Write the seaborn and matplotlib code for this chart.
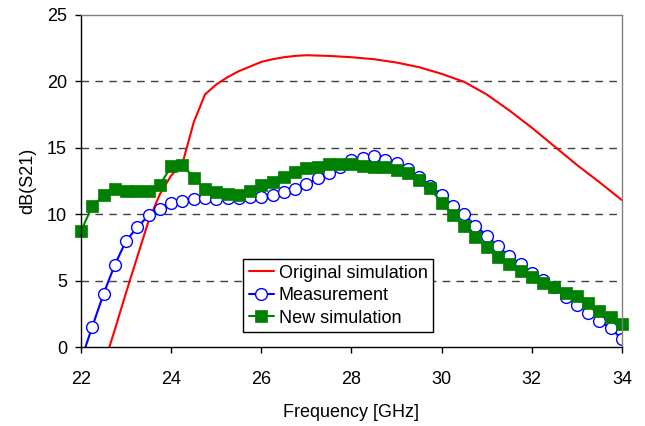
"""S21 comparison plot"""

import pandas as pd
import seaborn as sns
import matplotlib

matplotlib.use("Agg")
import matplotlib.pyplot as plt

sns.set_theme(style="white")
plt.rcParams["font.family"] = ["Liberation Sans", "DejaVu Sans"]
plt.rcParams["text.color"] = "black"
plt.rcParams["axes.labelcolor"] = "black"

# measured / simulated points, every 0.25 GHz
freq = [
    22.0, 22.25, 22.5, 22.75, 23.0, 23.25, 23.5, 23.75, 24.0, 24.25,
    24.5, 24.75, 25.0, 25.25, 25.5, 25.75, 26.0, 26.25, 26.5, 26.75,
    27.0, 27.25, 27.5, 27.75, 28.0, 28.25, 28.5, 28.75, 29.0, 29.25,
    29.5, 29.75, 30.0, 30.25, 30.5, 30.75, 31.0, 31.25, 31.5, 31.75,
    32.0, 32.25, 32.5, 32.75, 33.0, 33.25, 33.5, 33.75, 34.0,
]
measurement = [
    -1.0, 1.53, 4.0, 6.19, 7.99, 9.02, 9.9, 10.42, 10.8, 10.98,
    11.12, 11.22, 11.15, 11.18, 11.22, 11.25, 11.3, 11.43, 11.68, 11.88,
    12.23, 12.68, 13.11, 13.56, 14.06, 14.23, 14.36, 14.06, 13.81, 13.36,
    12.78, 12.12, 11.43, 10.62, 9.97, 9.12, 8.37, 7.57, 6.84, 6.24,
    5.59, 5.04, 4.49, 3.78, 3.16, 2.58, 1.95, 1.4, 0.6,
]
new_sim = [
    8.74, 10.58, 11.4, 11.88, 11.76, 11.76, 11.76, 12.18, 13.6, 13.7,
    12.75, 11.88, 11.66, 11.5, 11.44, 11.76, 12.18, 12.43, 12.8, 13.13,
    13.43, 13.56, 13.8, 13.8, 13.8, 13.6, 13.56, 13.56, 13.3, 13.12,
    12.56, 11.93, 10.8, 9.92, 9.1, 8.25, 7.5, 6.79, 6.22, 5.74,
    5.24, 4.84, 4.54, 4.08, 3.86, 3.28, 2.73, 2.28, 1.7,
]

# original simulation (line only)
freq_orig = [
    22.5, 22.75, 23.0, 23.25, 23.5, 23.75, 24.0, 24.25, 24.5, 24.75,
    25.0, 25.25, 25.5, 25.75, 26.0, 26.25, 26.5, 26.75, 27.0, 27.5,
    28.0, 28.5, 29.0, 29.5, 30.0, 30.5, 31.0, 31.5, 32.0, 32.5,
    33.0, 33.5, 34.0,
]
original = [
    -1.4, 1.3, 4.1, 6.8, 9.5, 11.5, 12.9, 13.8, 16.9, 19.0,
    19.75, 20.3, 20.75, 21.1, 21.45, 21.65, 21.8, 21.9, 21.95, 21.9,
    21.8, 21.65, 21.4, 21.05, 20.55, 19.95, 19.0, 17.8, 16.5, 15.1,
    13.7, 12.4, 11.05,
]

fig = plt.figure(figsize=(6.45, 4.26), dpi=100)
ax = fig.add_axes([0.1256, 0.1854, 0.8387, 0.7801])

sns.lineplot(x=freq_orig, y=original, color="#ff0000", linewidth=1.5,
             label="Original simulation", ax=ax)
sns.lineplot(x=freq, y=measurement, color="#0000ff", linewidth=1.5,
             marker="o", markersize=8.5, markerfacecolor="white",
             markeredgecolor="#0000ff", markeredgewidth=1.0,
             label="Measurement", ax=ax)
sns.lineplot(x=freq, y=new_sim, color="#008000", linewidth=1.5,
             marker="s", markersize=8, markerfacecolor="#008000",
             markeredgecolor="#008000", markeredgewidth=0.5,
             label="New simulation", ax=ax, clip_on=False)

ax.set_xlim(22, 34)
ax.set_ylim(0, 25)
ax.set_xticks([22, 24, 26, 28, 30, 32, 34])
ax.set_yticks([0, 5, 10, 15, 20, 25])
ax.set_xlabel("Frequency [GHz]", fontsize=13, labelpad=12)
ax.set_ylabel("dB(S21)", fontsize=13, labelpad=8)
ax.tick_params(axis="both", direction="out", length=4, width=1,
               color="black", labelsize=13, labelcolor="black")
ax.tick_params(axis="x", pad=13, bottom=True)
ax.tick_params(axis="y", pad=6, left=True)

for y in [5, 10, 15, 20]:
    ax.axhline(y, color="#404040", linewidth=1, dashes=(5.5, 4.5), zorder=0)

ax.spines["left"].set_color("black")
ax.spines["bottom"].set_color("black")
ax.spines["top"].set_color("#808080")
ax.spines["right"].set_color("#808080")
for s in ax.spines.values():
    s.set_linewidth(1)
    s.set_visible(True)

leg = ax.legend(loc="lower left", bbox_to_anchor=(0.30, 0.045),
                fontsize=13, frameon=True, fancybox=False, framealpha=1,
                edgecolor="black", borderpad=0.3, labelspacing=0.3,
                handlelength=1.4, handletextpad=0.25, borderaxespad=0)
leg.get_frame().set_linewidth(1)

fig.savefig("out.png", dpi=100)
